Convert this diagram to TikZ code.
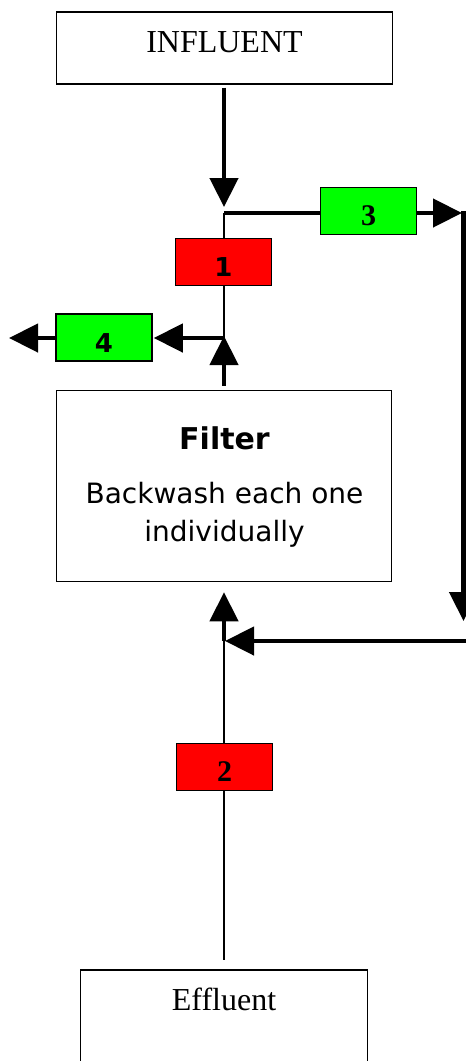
\documentclass[tikz,border=0pt]{standalone}
\usepackage{fontspec}
\setmainfont{Liberation Serif}
\newfontfamily\vfont{DejaVu Sans}
\usetikzlibrary{arrows.meta}
\definecolor{litegreen}{RGB}{0,255,0}
\definecolor{brightred}{RGB}{255,0,0}
\begin{document}
\begin{tikzpicture}[x=1pt,y=-1pt,
  box/.style={draw=black, line width=1.5pt, inner sep=0pt},
  numbox/.style={box, minimum width=96pt, minimum height=47pt, text height=29pt, text depth=0pt},
  serifnum/.style={font=\fontsize{30}{32}\selectfont\bfseries},
  sansnum/.style={font=\vfont\fontsize{26}{30}\selectfont\bfseries},
  redbox/.style={numbox, fill=brightred},
  greenbox/.style={numbox, fill=litegreen},
  fat/.style={line width=4.5pt},
  thinline/.style={line width=1.5pt},
  tipped/.style={-{Triangle[length=29pt,width=28pt]}},
]
\useasboundingbox (0,0) rectangle (466,1061);

% boxes
\node[box, minimum width=336pt, text height=41pt, text depth=31pt,
      font=\fontsize{32}{38}\selectfont] (infl) at (224.5,11) [anchor=north] {INFLUENT};
\node[redbox, sansnum] (b1) at (223.5,262) {1};
\node[greenbox, serifnum] (b3) at (368.5,211) {3};
\node[greenbox, sansnum] (b4) at (104,337.5) {4};
\node[box, minimum width=335pt, minimum height=191pt] (filter) at (224,486) {};
\node[anchor=base, font=\vfont\fontsize{30}{36}\selectfont\bfseries] (ftitle) at (224.5,449) {Filter};
\node[anchor=base, font=\vfont\fontsize{28}{38}\selectfont] (fline1) at (224.5,503) {Backwash each one};
\node[anchor=base, font=\vfont\fontsize{28}{38}\selectfont] (fline2) at (224.5,541) {individually};
\node[redbox, serifnum] (b2) at (224.5,767) {2};
\node[box, minimum width=287pt, text height=22pt, text depth=110pt, inner ysep=19pt,
      font=\fontsize{32}{38}\selectfont] (eff) at (224,969) [anchor=north] {Effluent};

% junctions
\coordinate (j1) at (224,213);
\coordinate (j2) at (224,338);
\coordinate (j3) at (224,641);
\coordinate (r1) at (463.5,213);
\coordinate (r2) at (463.5,621);
\coordinate (r3) at (472,641);
\coordinate (l4) at (9,338);

% connectors
\draw[fat, tipped, shorten <=3pt, shorten >=6pt] (infl.south -| j1) -- (j1);
\draw[fat] (j1) -- (b3.west |- j1);
\draw[fat, tipped, shorten >=1.5pt] (b3.east |- j1) -- (r1);
\draw[fat, tipped, shorten <=-2pt] (r1) -- (r2);
\draw[fat, tipped, shorten >=1pt] (r3) -- (j3);
\draw[thinline] (j1) -- (b1.north -| j1);
\draw[thinline] (b1.south -| j1) -- (j2);
\draw[fat, tipped, shorten >=1pt] (j2) -- (b4.east |- j2);
\draw[fat, tipped] (b4.west |- j2) -- (l4);
\draw[fat, tipped, shorten <=4pt, shorten >=-2pt] (filter.north) -- (j2);
\draw[fat, tipped, shorten >=10pt] (j3) -- (filter.south);
\draw[thinline] (j3) -- (b2.north -| j3);
\draw[thinline, shorten >=9pt] (b2.south -| j3) -- (eff.north -| j3);
\end{tikzpicture}
\end{document}
